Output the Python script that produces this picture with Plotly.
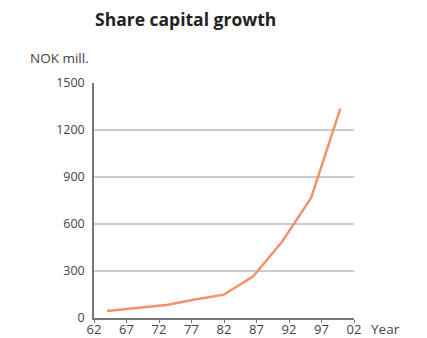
import plotly.graph_objects as go

years = [1964, 1968.5, 1973.4, 1977.3, 1982, 1986.5, 1990.9, 1995.4, 1999.9]
values = [45, 64, 85, 117, 149, 266, 485, 766, 1336]
x_ticks = [1962, 1967, 1972, 1977, 1982, 1987, 1992, 1997, 2002]
x_labels = ["62", "67", "72", "77", "82", "87", "92", "97", "02"]
y_ticks = [0, 300, 600, 900, 1200, 1500]

L, R, T, B = 94, 354, 83, 318
PW, PH = R - L, B - T

fig = go.Figure()
fig.add_trace(go.Scatter(x=years, y=values, mode="lines",
                         line=dict(color="#F2926C", width=2.5), showlegend=False))

fig.update_layout(
    width=427, height=338,
    margin=dict(l=L, r=427 - R, t=T, b=338 - B),
    paper_bgcolor="white", plot_bgcolor="white",
    font=dict(family="Open Sans", size=13, color="#444"),
    title=dict(text="<b>Share capital growth</b>", x=95/427, xanchor="left",
               y=1-20/338, yanchor="middle", font=dict(size=17.5, color="#222")),
    xaxis=dict(range=[1962, 2002], tickvals=x_ticks, ticktext=x_labels,
               showgrid=False, showline=True, linecolor="#777", linewidth=1.5,
               ticks="outside", ticklen=3, tickcolor="#777", automargin=False,
               zeroline=False, ticklabelstandoff=-4, tickfont=dict(size=13)),
    yaxis=dict(range=[0, 1500], tickvals=y_ticks, showgrid=True, gridcolor="#ccc",
               gridwidth=1.5, showline=True, linecolor="#777", linewidth=1.5,
               ticks="", automargin=False, zeroline=False, tickfont=dict(size=12.5),
               ticklabelstandoff=5),
    annotations=[
        dict(text="NOK mill.", x=(28 - L)/PW, y=(B - 58)/PH, xref="paper", yref="paper",
             xanchor="left", yanchor="middle", showarrow=False,
             font=dict(size=13.5, color="#444")),
        dict(text="Year", x=(369 - L)/PW, y=(B - 329)/PH, xref="paper", yref="paper",
             xanchor="left", yanchor="middle", showarrow=False,
             font=dict(size=13.5, color="#444")),
    ],
)

fig.write_html("out.html", config={"displayModeBar": False},
               post_script="document.body.style.margin='0';document.body.style.overflow='hidden';")
